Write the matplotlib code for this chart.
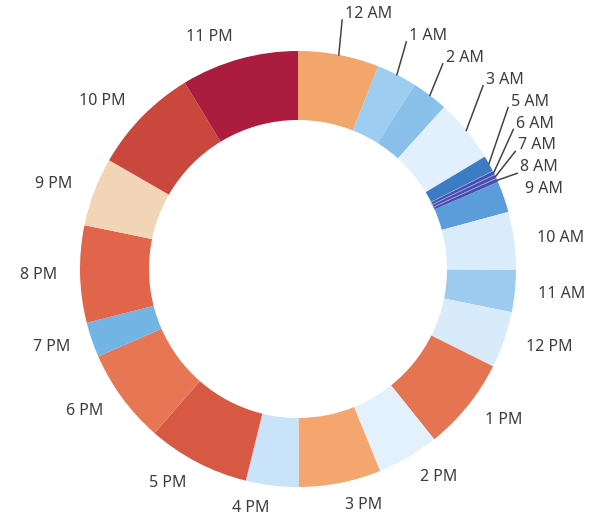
import numpy as np
import matplotlib
matplotlib.use('Agg')
import matplotlib.pyplot as plt

hours = ['12 AM', '1 AM', '2 AM', '3 AM', '4 AM', '5 AM', '6 AM', '7 AM', '8 AM', '9 AM',
         '10 AM', '11 AM', '12 PM', '1 PM', '2 PM', '3 PM', '4 PM', '5 PM', '6 PM',
         '7 PM', '8 PM', '9 PM', '10 PM', '11 PM']
counts = [60, 30, 27, 47, 0, 12, 3, 3, 3, 23,
          43, 31, 42, 69, 46, 61, 39, 76, 70,
          26, 72, 51, 80, 87]
colors = ['#F3A66C', '#9DCDF0', '#88C0EA', '#E1F0FC', '#E1F0FC', '#3B7CC4', '#474DAE', '#474DAE',
          '#474DAE', '#5B9DDA', '#D8ECFB', '#9CCBEF', '#D8EBFA', '#E57452', '#E3F1FC',
          '#F4A66E', '#C9E4F8', '#D75944', '#E77655', '#72B4E4', '#E0654B', '#F2D5B6',
          '#C9473D', '#AB1C3E']
# labels on the crowded top-right get leader lines and are stacked
leader = ['12 AM', '1 AM', '2 AM', '3 AM', '5 AM', '6 AM', '7 AM', '8 AM']

W, H = 599, 518
cx, cy = 298, H - 269
R, ring = 218, 69

fig = plt.figure(figsize=(W / 100, H / 100), dpi=100)
ax = fig.add_axes([0, 0, 1, 1])

edge = ['#9AA6DC' if h in ('6 AM', '7 AM', '8 AM') else 'none' for h in hours]
wedges, _ = ax.pie(counts, colors=colors, startangle=90, counterclock=False,
                   radius=R, center=(cx, cy),
                   wedgeprops=dict(width=ring, linewidth=0.6))
for w, e in zip(wedges, edge):
    w.set_edgecolor(e)

ax.set_xlim(0, W)
ax.set_ylim(0, H)
ax.set_aspect('equal')
ax.axis('off')

total = float(sum(counts))
cum = np.cumsum(counts) - np.array(counts) / 2.0
mid = np.deg2rad(cum / total * 360.0)  # clockwise from top

r_lab = 241
font = dict(fontsize=11.5, color='#3d3d3d', family=['Noto Sans', 'DejaVu Sans'])

xs = cx + r_lab * np.sin(mid)
ys = cy + r_lab * np.cos(mid)

# stack the leader labels upward from 9 AM
i9 = hours.index('9 AM')
step = 21.9
order = [hours.index(h) for h in leader][::-1]
stack_y = {}
for k, i in enumerate(order):
    stack_y[i] = ys[i9] + (k + 1) * step

for i, h in enumerate(hours):
    if counts[i] == 0:
        continue
    if i in stack_y:
        tx, ty = xs[i] + 2, stack_y[i]
        ox, oy = cx + R * np.sin(mid[i]), cy + R * np.cos(mid[i])
        ax.plot([ox, tx - 3], [oy, ty - 6], color='#444444', lw=1.1)
        ax.text(tx, ty, h, ha='left', va='center', **font)
    else:
        ha = 'left' if np.sin(mid[i]) > 0 else 'right'
        ax.text(xs[i], ys[i], h, ha=ha, va='center', **font)

fig.savefig('out.png', dpi=100)
